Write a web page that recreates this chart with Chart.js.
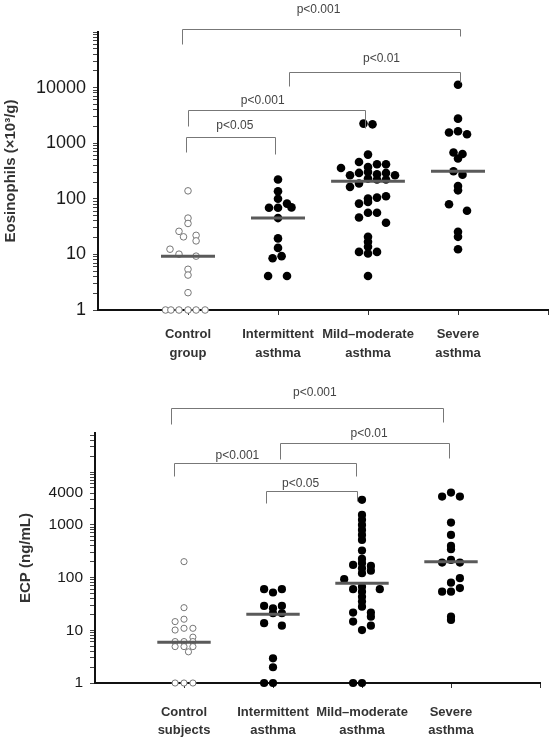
<!DOCTYPE html>
<html>
<head>
<meta charset="utf-8">
<script src="https://cdn.jsdelivr.net/npm/chart.js@4.4.0/dist/chart.umd.min.js"></script>
<style>
  html, body { margin: 0; padding: 0; background: #fff; }
  .panel { position: absolute; left: 0; width: 558px; }
  #eosWrap { top: 0; height: 370px; }
  #ecpWrap { top: 370px; height: 367px; }
</style>
</head>
<body>
<div class="panel" id="eosWrap"><canvas id="eos"></canvas></div>
<div class="panel" id="ecpWrap"><canvas id="ecp"></canvas></div>
<script>
// ---- data ----
const eosCategories = [['Control', 'group'], ['Intermittent', 'asthma'], ['Mild\u2013moderate', 'asthma'], ['Severe', 'asthma']];
const ecpCategories = [['Control', 'subjects'], ['Intermittent', 'asthma'], ['Mild\u2013moderate', 'asthma'], ['Severe', 'asthma']];

const eosTickLabels = [1, 10, 100, 1000, 10000];
const ecpTickLabels = [1, 10, 100, 1000, 4000];

const eosControl = [139, 45, 36, 26, 20.7, 22, 17.5, 12.4, 10.1, 9.3, 5.4, 4.25, 2.05, 1, 1, 1, 1, 1, 1];
const eosIntermittent = [222, 137, 100, 69, 69, 82, 70, 45, 19.4, 13.1, 8.5, 9.3, 4.1, 4.1];
const eosMild = [2250, 2185, 624, 460, 359, 374, 418, 418, 265, 292, 304, 277, 292, 265, 231, 222, 222, 164, 188,
  101, 105, 111, 82, 88, 46, 56, 56, 37, 20.7, 16.8, 13.7, 11.1, 11.1, 10.4, 4.1];
const eosSevere = [11270, 2766, 1560, 1636, 1450, 680, 640, 530, 313, 272, 170, 142, 80, 61, 25.5, 20.7, 12.4];
const eosMedians = [9.3, 45, 207, 313];

const ecpControl = [200, 26.8, 16.2, 14.6, 10.1, 10.9, 10.9, 7.4, 6.1, 6.1, 6.1, 4.9, 4.9, 4.9, 3.9, 1, 1, 1];
const ecpIntermittent = [60, 52, 60, 28.9, 26.1, 28.9, 21, 21, 13.6, 12.2, 2.94, 1.99, 1, 1];
const ecpMild = [2970, 1540, 1240, 996, 800, 643, 516, 324, 225, 173, 187, 166, 150, 135, 121, 93, 60, 67, 60, 54,
  43, 35, 28, 21.6, 21.6, 18.1, 14.6, 12.2, 10.1, 1, 1];
const ecpSevere = [3430, 4080, 3430, 1101, 643, 398, 344, 192, 216, 192, 97, 80, 54, 54, 63, 18.1, 15.7];
const ecpMedians = [5.9, 20.1, 78, 200];

const eosPLabels = ['p<0.001', 'p<0.01', 'p<0.001', 'p<0.05'];
const eosPLevels = [113000, 18700, 3900, 1280];
const ecpPLabels = ['p<0.001', 'p<0.01', 'p<0.001', 'p<0.05'];
const ecpPLevels = [165000, 35800, 14960, 4400];

// ---- horizontal spread of the dots (fraction of one category step) ----
const eosControlJit = [0, 0, 0, -0.1, -0.05, 0.09, 0.09, -0.2, -0.1, 0.09, 0, 0, 0, -0.25, -0.19, -0.1, 0, 0.09, 0.19];
const eosInterJit = [0, 0, 0, -0.1, 0, 0.1, 0.15, 0, 0, 0, -0.06, 0.04, -0.11, 0.1];
const eosMildJit = [-0.05, 0.05, 0, -0.1, -0.3, 0, 0.1, 0.2, -0.2, -0.1, 0, 0.1, 0.2, 0.3, 0, 0.1, 0.2, -0.2, -0.1,
  0, 0.1, 0.2, -0.1, 0, -0.1, 0, 0.1, 0.2, 0, 0, 0, -0.1, 0.1, 0, 0];
const eosSevereJit = [0, 0, -0.1, 0, 0.1, -0.05, 0.05, 0, -0.05, 0.05, 0, 0, -0.1, 0.1, 0, 0, 0];

const ecpControlJit = [0, 0, 0, -0.1, -0.1, 0, 0.1, 0.1, -0.1, 0, 0.1, -0.1, 0, 0.1, 0.05, -0.1, 0, 0.1];
const ecpInterJit = [-0.1, 0, 0.1, -0.1, 0, 0.1, 0, 0.1, -0.1, 0.1, 0, 0, -0.1, 0];
const ecpMildJit = [0, 0, 0, 0, 0, 0, 0, 0, 0, -0.1, 0, 0.1, 0, 0.1, 0, -0.2, -0.1, 0, 0.2, 0,
  0, 0, 0, -0.1, 0.1, 0.1, -0.1, 0.1, 0, -0.1, 0];
const ecpSevereJit = [-0.1, 0, 0.1, 0, 0, 0, 0, -0.1, 0, 0.1, 0.1, 0, -0.1, 0, 0.1, 0, 0];

// bracket geometry: x ends / label position in category units, legs and gap in px
const eosBrackets = [
  {from: 0.93, to: 4.02, labelAt: 2.45, legL: 15, legR: 7, gap: 20},
  {from: 2.12, to: 4.02, labelAt: 3.15, legL: 14, legR: 10, gap: 14},
  {from: 1.0, to: 2.97, labelAt: 1.83, legL: 16, legR: 18, gap: 10},
  {from: 0.98, to: 1.97, labelAt: 1.52, legL: 15, legR: 17, gap: 12}
];
const ecpBrackets = [
  {from: 0.85, to: 3.91, labelAt: 2.47, legL: 16, legR: 14, gap: 16},
  {from: 2.08, to: 3.98, labelAt: 3.08, legL: 16, legR: 15, gap: 10},
  {from: 0.89, to: 2.93, labelAt: 1.6, legL: 13, legR: 13, gap: 8},
  {from: 1.92, to: 2.94, labelAt: 2.31, legL: 12, legR: 10, gap: 8}
];

const FONT = "'Liberation Sans', Arial, sans-serif";

function logTicks(max) {
  var t = [];
  for (var d = 1; d < max; d *= 10) {
    for (var k = 1; k < 10; k++) {
      if (k * d <= max) t.push(k * d);
    }
  }
  if (t[t.length - 1] !== max && max % Math.pow(10, Math.floor(Math.log10(max))) === 0) t.push(max);
  return t;
}

const bracketPlugin = {
  id: 'brackets',
  afterDraw(chart, args, opts) {
    const ctx = chart.ctx;
    const x = chart.scales.x, y = chart.scales.y;
    ctx.save();
    ctx.strokeStyle = '#777';
    ctx.lineWidth = 1;
    ctx.font = '12px ' + FONT;
    ctx.fillStyle = '#444';
    ctx.textAlign = 'center';
    ctx.textBaseline = 'middle';
    opts.items.forEach((b, i) => {
      const x1 = Math.round(x.getPixelForValue(b.from)) + 0.5;
      const x2 = Math.round(x.getPixelForValue(b.to)) + 0.5;
      const yy = Math.round(y.getPixelForValue(opts.levels[i])) + 0.5;
      ctx.beginPath();
      ctx.moveTo(x1, yy + b.legL);
      ctx.lineTo(x1, yy);
      ctx.lineTo(x2, yy);
      ctx.lineTo(x2, yy + b.legR);
      ctx.stroke();
      ctx.fillText(opts.labels[i], x.getPixelForValue(b.labelAt), yy - b.gap);
    });
    ctx.restore();
  }
};

function groupDataset(values, jit, idx, open, r) {
  return {
    data: values.map((v, j) => ({x: idx + 1 + jit[j], y: v})),
    pointRadius: open ? r - 1 : r,
    pointBackgroundColor: open ? '#fff' : '#000',
    pointBorderColor: open ? '#777' : '#000',
    pointBorderWidth: open ? 1 : 0,
    clip: false,
    order: 2
  };
}

function medianDataset(m, idx, half) {
  return {
    type: 'line',
    data: [{x: idx + 1 - half, y: m}, {x: idx + 1 + half, y: m}],
    showLine: true,
    borderColor: '#5a5a5a',
    borderWidth: 3,
    pointRadius: 0,
    clip: false,
    order: 1
  };
}

function makePanel(id, cfg) {
  var datasets = [];
  cfg.groups.forEach((g, i) => datasets.push(groupDataset(g, cfg.jits[i], i, i === 0, cfg.r)));
  cfg.medians.forEach((m, i) => datasets.push(medianDataset(m, i, cfg.halves[i])));

  new Chart(document.getElementById(id), {
    type: 'scatter',
    data: { datasets: datasets },
    options: {
      responsive: true,
      maintainAspectRatio: false,
      animation: false,
      layout: { padding: cfg.padding },
      plugins: {
        legend: { display: false },
        tooltip: { enabled: false },
        brackets: { items: cfg.brackets, levels: cfg.pLevels, labels: cfg.pLabels }
      },
      scales: {
        x: {
          type: 'linear',
          min: 0,
          max: 5,
          afterBuildTicks: s => { s.ticks = [1, 2, 3, 4, 5].map(v => ({value: v})); },
          afterFit: s => { s.height = cfg.xHeight; },
          ticks: {
            autoSkip: false,
            maxRotation: 0,
            padding: cfg.xPad,
            color: '#333',
            font: { family: FONT, size: 13, weight: 'bold', lineHeight: cfg.xLine },
            callback: v => cfg.categories[v - 1] || ''
          },
          grid: { drawOnChartArea: false, tickLength: 5, tickColor: '#333' },
          border: { color: '#111', width: 2 }
        },
        y: {
          type: 'logarithmic',
          min: 1,
          max: cfg.yMax,
          afterBuildTicks: s => { s.ticks = logTicks(cfg.yMax).map(v => ({value: v})); },
          afterFit: s => { s.width = cfg.yWidth; },
          ticks: {
            autoSkip: false,
            padding: 7,
            color: '#1a1a1a',
            font: { family: FONT, size: cfg.tickSize },
            callback: v => cfg.tickLabels.includes(v) ? String(v) : ''
          },
          grid: { drawOnChartArea: false, tickLength: 5, tickColor: '#444' },
          border: { color: '#111', width: 2 },
          title: {
            display: true,
            text: cfg.title,
            color: '#333',
            font: { family: FONT, size: 15, weight: 'bold', lineHeight: 1.2 },
            padding: { top: cfg.titlePad, bottom: 0 }
          }
        }
      }
    },
    plugins: [bracketPlugin]
  });
}

makePanel('eos', {
  categories: eosCategories,
  tickLabels: eosTickLabels,
  groups: [eosControl, eosIntermittent, eosMild, eosSevere],
  jits: [eosControlJit, eosInterJit, eosMildJit, eosSevereJit],
  medians: eosMedians,
  halves: [0.3, 0.3, 0.41, 0.3],
  brackets: eosBrackets,
  pLevels: eosPLevels,
  pLabels: eosPLabels,
  title: 'Eosinophils (\u00d710\u00b3/g)',
  yMax: 100000,
  yWidth: 98,
  xHeight: 60,
  xPad: 10,
  xLine: 1.45,
  tickSize: 18,
  titlePad: 2,
  r: 4.3,
  padding: { top: 32, right: 2, left: 0, bottom: 0 }
});

makePanel('ecp', {
  categories: ecpCategories,
  tickLabels: ecpTickLabels,
  groups: [ecpControl, ecpIntermittent, ecpMild, ecpSevere],
  jits: [ecpControlJit, ecpInterJit, ecpMildJit, ecpSevereJit],
  medians: ecpMedians,
  halves: [0.3, 0.3, 0.3, 0.3],
  brackets: ecpBrackets,
  pLevels: ecpPLevels,
  pLabels: ecpPLabels,
  title: 'ECP (ng/mL)',
  yMax: 55000,
  yWidth: 95,
  xHeight: 54,
  xPad: 15,
  xLine: 1.4,
  tickSize: 15.5,
  titlePad: 17,
  r: 4.1,
  padding: { top: 63, right: 18, left: 0, bottom: 0 }
});
</script>
</body>
</html>
